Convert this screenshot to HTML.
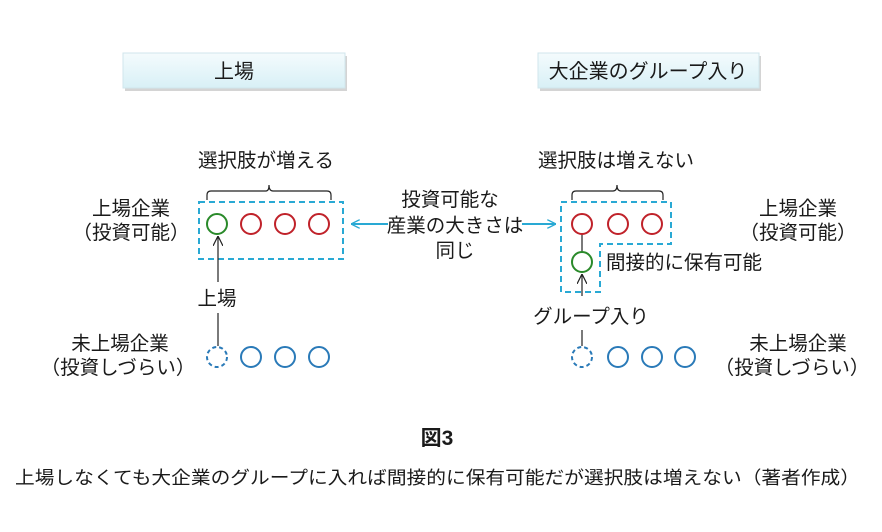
<!DOCTYPE html>
<html><head><meta charset="utf-8"><style>
html,body{margin:0;padding:0;background:#fff;width:882px;height:532px;overflow:hidden}
svg text{font-family:"Liberation Sans","Noto Sans CJK JP",sans-serif;fill:#1a1a1a}
</style></head><body>
<svg width="882" height="532" viewBox="0 0 882 532" xmlns="http://www.w3.org/2000/svg">
<defs>
<linearGradient id="g" x1="0" y1="0" x2="0" y2="1"><stop offset="0" stop-color="#f4fbfd"/><stop offset="1" stop-color="#d8f0f6"/></linearGradient>
<marker id="ab" viewBox="0 0 10 10" refX="10" refY="5" markerWidth="9" markerHeight="9" orient="auto" markerUnits="userSpaceOnUse"><path d="M0,0 L10,5 L0,10" fill="none" stroke="#29a9d4" stroke-width="1.5"/></marker>
<marker id="ak" viewBox="0 0 10 10" refX="10" refY="5" markerWidth="10" markerHeight="10" orient="auto" markerUnits="userSpaceOnUse"><path d="M0,0 L10,5 L0,10" fill="none" stroke="#222" stroke-width="1.2"/></marker>
</defs>
<rect x="125" y="56" width="222" height="35" fill="#b8b8b8" opacity=".6"/>
<rect x="123" y="53" width="222" height="35" fill="url(#g)" stroke="#d0e6ec"/>
<text x="234" y="78" font-size="20" text-anchor="middle">上場</text>
<rect x="540" y="56" width="221" height="35" fill="#b8b8b8" opacity=".6"/>
<rect x="538" y="53" width="221" height="35" fill="url(#g)" stroke="#d0e6ec"/>
<text x="648" y="78" font-size="20" text-anchor="middle">大企業のグループ入り</text>
<text x="266" y="167" font-size="19.5" text-anchor="middle">選択肢が増える</text>
<path d="M207,200 V195 Q207,191 211,191 H266 Q269,191 269,185 Q269,191 273,191 H327 Q331,191 331,195 V200" fill="none" stroke="#222" stroke-width="1.2"/>
<rect x="199" y="202" width="144" height="57" fill="none" stroke="#29a9d4" stroke-width="2" stroke-dasharray="6,4"/>
<g fill="none" stroke-width="2">
<circle cx="217" cy="224" r="10" stroke="#2a8a2a"/>
<circle cx="251" cy="224" r="10" stroke="#c0222a"/>
<circle cx="285" cy="224" r="10" stroke="#c0222a"/>
<circle cx="319" cy="224" r="10" stroke="#c0222a"/>
<circle cx="217" cy="357" r="10" stroke="#2a7ab8" stroke-dasharray="4,3"/>
<circle cx="251" cy="357" r="10" stroke="#2a7ab8"/>
<circle cx="285" cy="357" r="10" stroke="#2a7ab8"/>
<circle cx="319" cy="357" r="10" stroke="#2a7ab8"/>
</g>
<line x1="218" y1="282" x2="218" y2="236" stroke="#222" stroke-width="1.2" marker-end="url(#ak)"/>
<text x="217" y="305" font-size="19.5" text-anchor="middle">上場</text>
<line x1="218" y1="313" x2="218" y2="346" stroke="#222" stroke-width="1.2"/>
<text x="131" y="215" font-size="19.5" text-anchor="middle">上場企業</text>
<text x="131" y="239" font-size="19.5" text-anchor="middle">（投資可能）</text>
<text x="120" y="350" font-size="19.5" text-anchor="middle">未上場企業</text>
<text x="118" y="374" font-size="19.5" text-anchor="middle">（投資しづらい）</text>
<text x="450" y="206" font-size="19.5" text-anchor="middle">投資可能な</text>
<text x="455" y="232" font-size="19.5" text-anchor="middle">産業の大きさは</text>
<text x="455" y="257" font-size="19.5" text-anchor="middle">同じ</text>
<line x1="388" y1="224" x2="351" y2="224" stroke="#29a9d4" stroke-width="2" marker-end="url(#ab)"/>
<line x1="522" y1="224" x2="556" y2="224" stroke="#29a9d4" stroke-width="2" marker-end="url(#ab)"/>
<text x="616" y="167" font-size="19.5" text-anchor="middle">選択肢は増えない</text>
<path d="M572,200 V195 Q572,191 576,191 H613 Q617,191 617,185 Q617,191 621,191 H659 Q663,191 663,195 V200" fill="none" stroke="#222" stroke-width="1.2"/>
<path d="M561,202 H671 V244 H600 V292 H561 Z" fill="none" stroke="#29a9d4" stroke-width="2" stroke-dasharray="6,4"/>
<line x1="582" y1="234" x2="582" y2="252" stroke="#222" stroke-width="1.2"/>
<g fill="none" stroke-width="2">
<circle cx="582" cy="224" r="10" stroke="#c0222a"/>
<circle cx="618" cy="224" r="10" stroke="#c0222a"/>
<circle cx="652" cy="224" r="10" stroke="#c0222a"/>
<circle cx="582" cy="262" r="10" stroke="#2a8a2a"/>
<circle cx="582" cy="357" r="10" stroke="#2a7ab8" stroke-dasharray="4,3"/>
<circle cx="618" cy="357" r="10" stroke="#2a7ab8"/>
<circle cx="652" cy="357" r="10" stroke="#2a7ab8"/>
<circle cx="685" cy="357" r="10" stroke="#2a7ab8"/>
</g>
<line x1="582" y1="296" x2="582" y2="274" stroke="#222" stroke-width="1.2" marker-end="url(#ak)"/>
<text x="606" y="269" font-size="19.5">間接的に保有可能</text>
<text x="591" y="323" font-size="19.5" text-anchor="middle">グループ入り</text>
<line x1="582" y1="330" x2="582" y2="346" stroke="#222" stroke-width="1.2"/>
<text x="798" y="215" font-size="19.5" text-anchor="middle">上場企業</text>
<text x="798" y="239" font-size="19.5" text-anchor="middle">（投資可能）</text>
<text x="798" y="350" font-size="19.5" text-anchor="middle">未上場企業</text>
<text x="792" y="374" font-size="19.5" text-anchor="middle">（投資しづらい）</text>
<text x="437" y="445" font-size="21" font-weight="bold" text-anchor="middle">図3</text>
<text x="15" y="484" font-size="18" textLength="845" lengthAdjust="spacingAndGlyphs">上場しなくても大企業のグループに入れば間接的に保有可能だが選択肢は増えない（著者作成）</text>
</svg>
</body></html>
